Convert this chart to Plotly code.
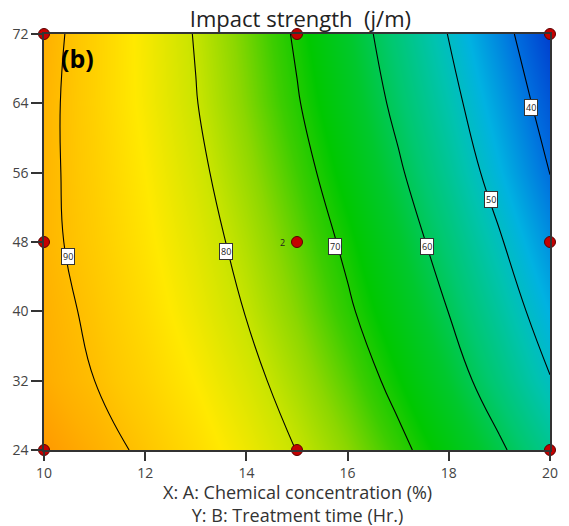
import plotly.graph_objects as go

# Factor A: chemical concentration (%), factor B: treatment time (h)
conc = [10, 11, 12, 13, 14, 15, 16, 17, 18, 19, 20]
time_h = [24, 32, 40, 48, 56, 64, 72]

# Predicted impact strength (J/m), one row per treatment time
impact = [
    [93.2, 91.5, 89.3, 86.6, 83.5, 79.9, 75.9, 71.4, 66.4, 60.9, 55.0],  # 24 h
    [91.8, 90.0, 87.7, 84.9, 81.6, 77.7, 73.3, 68.3, 62.8, 56.8, 50.3],  # 32 h
    [91.4, 89.3, 86.6, 83.4, 79.8, 75.6, 70.8, 65.6, 59.9, 53.6, 46.8],  # 40 h
    [90.9, 88.6, 85.7, 82.3, 78.4, 73.9, 68.9, 63.3, 57.2, 50.6, 43.4],  # 48 h
    [90.9, 88.2, 85.0, 81.2, 76.9, 72.1, 66.7, 60.8, 54.4, 47.4, 39.9],  # 56 h
    [91.0, 87.9, 84.3, 80.2, 75.5, 70.4, 64.8, 58.6, 52.0, 44.9, 37.2],  # 64 h
    [91.4, 88.0, 84.1, 79.7, 74.7, 69.3, 63.3, 56.8, 49.8, 42.4, 34.3],  # 72 h
]

# Contour levels and where their tags sit (A, B)
levels = [40, 50, 60, 70, 80, 90]
tag_a = [19.63, 18.83, 17.56, 15.76, 13.59, 10.47]
tag_b = [63.5, 52.9, 47.5, 47.5, 46.9, 46.3]

# Design points of the experiment
design_a = [10, 10, 10, 15, 15, 15, 20, 20, 20]
design_b = [24, 48, 72, 24, 48, 72, 24, 48, 72]
center_runs = "2"

x_title = "X: A: Chemical concentration (%)"
y_title = "Y: B: Treatment time (Hr.)"

zmin, zmax = 34.0, 93.5
stops = [
    (34, "rgb(0,60,205)"),
    (40, "rgb(0,110,222)"),
    (47, "rgb(0,178,225)"),
    (52, "rgb(0,195,175)"),
    (58, "rgb(0,200,110)"),
    (63, "rgb(0,200,45)"),
    (68, "rgb(0,200,0)"),
    (72, "rgb(60,205,0)"),
    (76, "rgb(140,215,0)"),
    (80, "rgb(200,228,0)"),
    (85, "rgb(255,233,0)"),
    (89, "rgb(255,200,0)"),
    (91.5, "rgb(255,175,0)"),
    (93.5, "rgb(255,150,0)"),
]
colorscale = [[(v - zmin) / (zmax - zmin), c] for v, c in stops]

font_family = "Open Sans, Noto Sans, sans-serif"

fig = go.Figure()
fig.add_trace(go.Contour(
    x=conc, y=time_h, z=impact,
    colorscale=colorscale, zmin=zmin, zmax=zmax, showscale=False,
    contours=dict(coloring="heatmap", start=min(levels), end=max(levels),
                  size=levels[1] - levels[0], showlabels=False),
    line=dict(color="black", width=1.1, smoothing=1.3),
    hoverinfo="skip",
))

fig.add_trace(go.Scatter(
    x=design_a, y=design_b, mode="markers", cliponaxis=False,
    marker=dict(size=11, color="#C40000", line=dict(color="#5a0000", width=1)),
    hoverinfo="skip", showlegend=False,
))

annotations = []
for lv, a, b in zip(levels, tag_a, tag_b):
    annotations.append(dict(
        x=a, y=b, xref="x", yref="y", text=str(lv), showarrow=False,
        font=dict(size=9, color="#222", family=font_family),
        bgcolor="white", bordercolor="#333", borderwidth=1, borderpad=1,
    ))
annotations.append(dict(
    x=15, y=48, xref="x", yref="y", text=center_runs, showarrow=False,
    xshift=-15, font=dict(size=9, color="#222", family=font_family),
))
annotations.append(dict(
    x=0.03, y=0.942, xref="paper", yref="paper", xanchor="left", yanchor="middle",
    text="<b>(b)</b>", showarrow=False,
    font=dict(size=25, color="black", family=font_family),
))
# Factor captions stacked under the x axis, as one two-line block
annotations.append(dict(
    x=0.5, y=0, xref="paper", yref="paper", xanchor="center", yanchor="middle",
    yshift=-(503 - 450), text=x_title + "<br>" + y_title, showarrow=False,
    font=dict(size=18, color="#333", family=font_family),
))

fig.update_layout(
    width=569, height=526,
    margin=dict(l=44, r=11, t=34, b=76),
    paper_bgcolor="white", plot_bgcolor="white",
    font=dict(family=font_family, color="#333"),
    title=dict(text="Impact strength  (j/m)", x=0.528, xanchor="center",
               y=1 - 19 / 526, yanchor="middle",
               font=dict(size=22, color="#222", family=font_family)),
    annotations=annotations,
    showlegend=False,
)
fig.update_xaxes(
    range=[10, 20], tickvals=[10, 12, 14, 16, 18, 20],
    ticks="outside", ticklen=9, tickwidth=1.5, tickcolor="#333",
    showline=True, linecolor="#333", linewidth=1.5, mirror=True,
    showgrid=False, zeroline=False,
    tickfont=dict(size=14, color="#444"),
)
fig.update_yaxes(
    range=[24, 72], tickvals=[24, 32, 40, 48, 56, 64, 72],
    ticks="outside", ticklen=11, tickwidth=1.5, tickcolor="#333",
    showline=True, linecolor="#333", linewidth=1.5, mirror=True,
    showgrid=False, zeroline=False,
    tickfont=dict(size=14, color="#444"),
)

fig.write_html("out.html")
